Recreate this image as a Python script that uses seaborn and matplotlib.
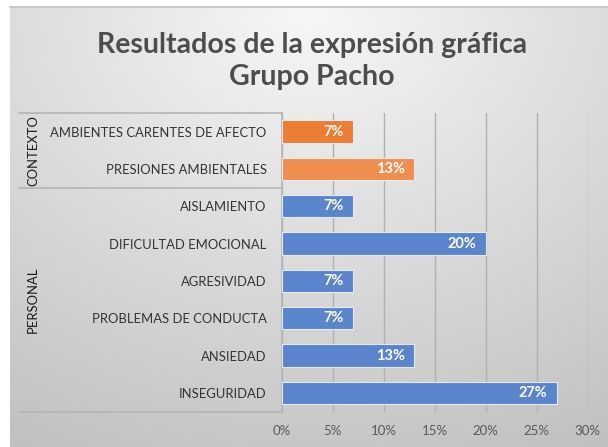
import numpy as np
import pandas as pd
import matplotlib
matplotlib.use("Agg")
import matplotlib.pyplot as plt
import seaborn as sns

# data
groups = ["CONTEXTO", "CONTEXTO", "PERSONAL", "PERSONAL", "PERSONAL", "PERSONAL", "PERSONAL", "PERSONAL"]
categories = [
    "AMBIENTES CARENTES DE AFECTO",
    "PRESIONES AMBIENTALES",
    "AISLAMIENTO",
    "DIFICULTAD EMOCIONAL",
    "AGRESIVIDAD",
    "PROBLEMAS DE CONDUCTA",
    "ANSIEDAD",
    "INSEGURIDAD",
]
values = [7, 13, 7, 20, 7, 7, 13, 27]
bar_colors = ["#ED7D31", "#F08E50", "#5A84CB", "#5A84CB", "#5A84CB", "#5A84CB", "#5A84CB", "#5A84CB"]
x_ticks = [0, 5, 10, 15, 20, 25, 30]

df = pd.DataFrame({"group": groups, "categoria": categories, "valor": values})

sns.set_theme(style="white")
plt.rcParams["font.family"] = ["Lato", "DejaVu Sans"]

W, H = 608, 447
fig = plt.figure(figsize=(W / 100, H / 100), dpi=100)
fig.patch.set_facecolor("white")

# gradient background of the chart area
bg = fig.add_axes([10 / W, 0, (W - 10) / W, (H - 7) / H], zorder=0)
yy, xx = np.mgrid[0:1:200j, 0:1:300j]
r = np.sqrt(((xx - 0.5) / 0.9) ** 2 + ((yy - 0.0) / 1.0) ** 2)
shade = 0.97 - 0.19 * np.clip(r, 0, 1.2)
bg.imshow(np.dstack([shade] * 3), aspect="auto", extent=[0, 1, 0, 1], origin="upper")
bg.plot([0, 1], [1, 1], color="#C8C8C8", lw=1.5, transform=bg.transAxes, clip_on=False)
bg.set_axis_off()

# bars
left, right = 282 / W, 587.5 / W
bottom, top = 1 - 411.5 / H, 1 - 113 / H
ax = fig.add_axes([left, bottom, right - left, top - bottom], zorder=2)
ax.set_facecolor("none")

sns.barplot(data=df, y="categoria", x="valor", hue="categoria", palette=bar_colors,
            saturation=1, legend=False, orient="h", width=0.6, ax=ax,
            edgecolor="#E3E9F5", linewidth=0.8, zorder=3)

ax.set_xlim(0, 30)
ax.set_xticks(x_ticks)
ax.set_xticklabels([f"{t}%" for t in x_ticks], color="#595959", fontsize=9.5)
ax.tick_params(axis="x", length=0, pad=10)
ax.set_yticks(range(len(categories)))
ax.set_yticklabels(categories, color="#333333", fontsize=9.4)
ax.tick_params(axis="y", length=0, pad=11)
ax.set_xlabel("")
ax.set_ylabel("")
ax.grid(axis="x", color="#B0B0B0", lw=1)
ax.set_axisbelow(True)
for s in ["top", "right", "bottom"]:
    ax.spines[s].set_visible(False)
ax.spines["left"].set_color("#B5B5B5")
ax.spines["left"].set_linewidth(1.2)
ax.set_ylim(len(categories) - 0.5, -0.5)

# data labels
for i, v in enumerate(values):
    ax.annotate(f"{v}%", (v, i), xytext=(-7, 0), textcoords="offset points",
                ha="right", va="center", color="white", fontsize=10.5, fontweight="bold", zorder=4)

# multi-level category box
x_box = -(282 - 19) / (587.5 - 282)
ytr = ax.get_yaxis_transform()
y_top, y_bot = ax.get_ylim()[1], ax.get_ylim()[0]
boundaries = [y_top, 1.5, y_bot]
for b in boundaries:
    ax.plot([x_box, 0], [b, b], color="#B5B5B5", lw=1.2, transform=ytr, clip_on=False, zorder=1)

for g in dict.fromkeys(groups):
    idx = [i for i, gg in enumerate(groups) if gg == g]
    mid = (min(idx) + max(idx)) / 2
    if g == "PERSONAL":
        mid = (1.5 + y_bot) / 2
    ax.text(x_box + 0.046, mid, g, rotation=90, ha="center", va="center",
            color="#1A1A1A", fontsize=9.4, transform=ytr)

# title
fig.text(0.513, 1 - 45 / H, "Resultados de la expresión gráfica", ha="center", va="center",
         fontsize=20.5, fontweight="bold", color="#4D4D4D")
fig.text(0.513, 1 - 77 / H, "Grupo Pacho", ha="center", va="center",
         fontsize=20.5, fontweight="bold", color="#4D4D4D")

fig.savefig("out.png", dpi=100)
